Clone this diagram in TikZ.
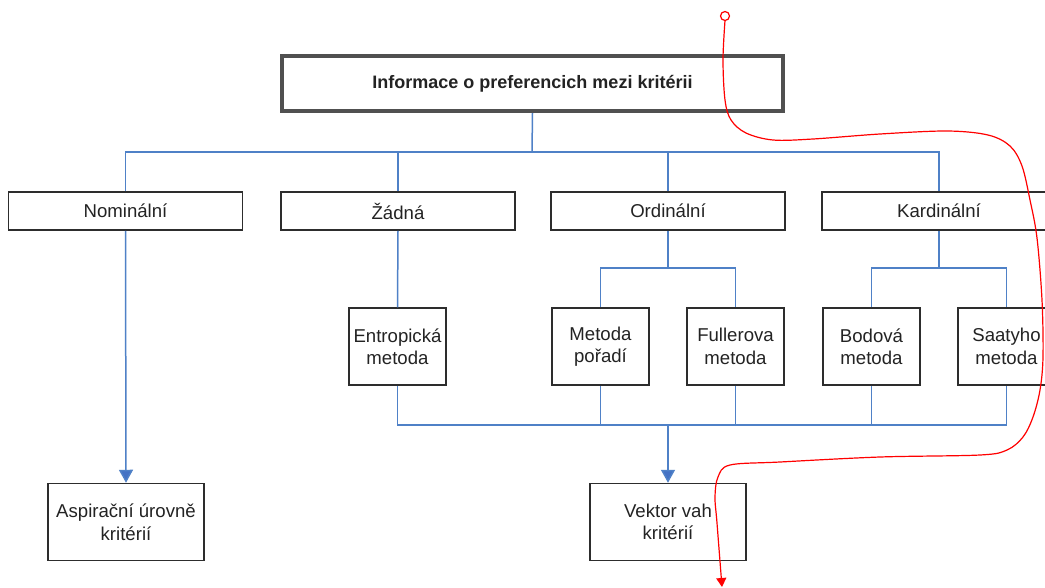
\documentclass[tikz,border=0pt]{standalone}
\usepackage{fontspec}
\setmainfont{Liberation Sans}
\usetikzlibrary{arrows.meta}
\definecolor{linkblue}{RGB}{79,129,199}
\definecolor{tipblue}{RGB}{68,114,196}
\definecolor{boxedge}{RGB}{45,45,45}
\definecolor{rootedge}{RGB}{80,80,80}
\definecolor{ink}{RGB}{35,35,35}
\tikzset{
  box/.style={draw=boxedge, line width=1.5pt, fill=white, inner sep=0pt, align=center,
    text=ink, font=\fontsize{18.6}{22.5}\selectfont},
  rootbox/.style={draw=rootedge, line width=4pt, fill=white, inner sep=0pt,
    minimum width=501pt, minimum height=55pt, text=ink,
    font=\fontsize{18}{22}\selectfont\bfseries},
  levelbox/.style={box, minimum width=234pt, minimum height=38pt},
  methodbox/.style={box, minimum width=97pt, minimum height=77pt},
  resultbox/.style={box, minimum width=156pt, minimum height=77pt},
  link/.style={draw=linkblue, line width=1.5pt},
  linkarrow/.style={link, -{Triangle[width=14pt,length=13pt,fill=tipblue]}},
  markup/.style={draw=red, line width=1.2pt},
}
\begin{document}
\begin{tikzpicture}[x=1pt,y=-1pt]
\clip (0,0) rectangle (1045,587);
\fill[white] (0,0) rectangle (1045,587);

% root and first level
\node[rootbox] (root) at (532.5,83.5) {Informace o preferencich mezi kritérii};
\node[levelbox] (nom) at (125.5,211) {Nominální};
\node[levelbox] (zad) at (398,211) {Žádná};
\node[levelbox] (ord) at (668,211) {Ordinální};
\node[levelbox] (kar) at (939,211) {Kardinální};

% methods
\node[methodbox] (ent) at (397.5,346.5) {Entropická\\metoda};
\node[methodbox] (por) at (600.5,346.5) {Metoda\\pořadí};
\node[methodbox] (ful) at (735.5,346.5) {Fullerova\\metoda};
\node[methodbox] (bod) at (871.5,346.5) {Bodová\\metoda};
\node[methodbox] (saa) at (1006.5,346.5) {Saatyho\\metoda};

% results
\node[resultbox] (asp) at (126,522) {Aspirační úrovně\\kritérií};
\node[resultbox] (vek) at (668,522) {Vektor vah\\kritérií};

% bus coordinates
\coordinate (busTop) at (532,152);
\coordinate (busOrd) at (668,268);
\coordinate (busKar) at (939,268);
\coordinate (busLow) at (668,425);

% root to first level
\draw[link] (root.south) -- (busTop);
\draw[link] (nom.north) |- (busTop) -| (kar.north);
\draw[link] (zad.north) -- (zad.north |- busTop);
\draw[link] (ord.north) -- (ord.north |- busTop);

% first level to methods
\draw[link] (zad.south) -- (ent.north);
\draw[link] (ord.south) -- (busOrd);
\draw[link] (por.north) |- (busOrd) -| (ful.north);
\draw[link] (kar.south) -- (busKar);
\draw[link] (bod.north) |- (busKar) -| (saa.north);

% methods to weight vector
\draw[link] (ent.south) |- (busLow) -| (saa.south);
\draw[link] (por.south) -- (por.south |- busLow);
\draw[link] (ful.south) -- (ful.south |- busLow);
\draw[link] (bod.south) -- (bod.south |- busLow);
\draw[linkarrow] (busLow) -- (vek.north);
\draw[linkarrow] (nom.south) -- (asp.north);

% red hand-drawn stroke
\coordinate (penStart) at (725,16);
\draw[markup] (penStart) circle (4.5);
\draw[markup, -{Triangle[width=10pt,length=9pt,fill=red]}]
  plot[smooth, tension=0.55] coordinates {
    (725,20.5) (723,60) (725,100) (731,120) (746,133) (773,140) (813,139)
    (880,134) (947,131) (988,135) (1010,146) (1022,166) (1030,200)
    (1037,238) (1042,300) (1043,357) (1040,390) (1033,417) (1023,437)
    (1007,450) (980,455) (880,457) (780,462) (730,465) (718,477)
    (715,497) (717,523) (722,587)};
\end{tikzpicture}
\end{document}
